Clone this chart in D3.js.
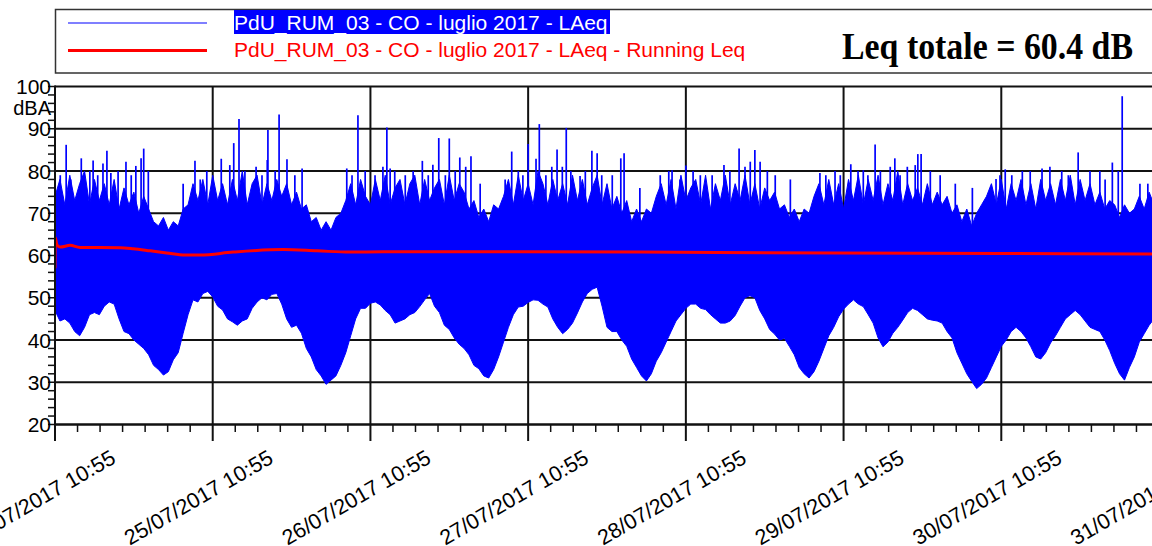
<!DOCTYPE html>
<html>
<head>
<meta charset="utf-8">
<script src="https://cdn.jsdelivr.net/npm/d3@7"></script>
<style>
body { margin: 0; background: #fff; }
svg { display: block; font-family: "Liberation Sans", Arial, sans-serif; }
</style>
</head>
<body>
<div id="workspace"></div>
<script>
// data START

// LAeq envelope, min / max read every 45 min from 24/07/2017 10:55
var startTime = new Date(2017, 6, 24, 10, 55);
var stepHours = 0.75;
var upperLevels = [
  74, 78, 72, 79, 73, 77, 80, 72, 78, 73, 77, 72, 78, 71, 76, 72, 75, 70, 74,
  71, 68, 67, 69, 66, 68, 67, 71,
  72, 77, 73, 78, 72, 79, 73, 77, 72, 78, 73, 80, 72, 77, 79, 72, 77, 73, 78,
  74, 77, 72, 75, 71,
  72, 68, 69, 66, 68, 66, 69, 70,
  73, 77, 72, 78, 74, 72, 78, 73, 79, 72, 76, 78, 72, 77, 79, 72, 78, 73, 76, 78, 72, 79, 73, 77,
  75, 71, 73, 69, 71, 68, 72, 71,
  74, 78, 72, 79, 73, 77, 72, 80, 77, 72, 78, 73, 77, 72, 79, 73, 78, 72, 76, 79, 72, 77, 71,
  74, 70, 73, 68, 71, 68, 71, 70, 74,
  77, 72, 78, 71, 79, 73, 76, 78, 72, 79, 71, 77, 73, 79, 72, 77, 73, 79, 72, 77, 71, 76, 73,
  75, 71, 72, 69, 71, 68, 71, 70, 74,
  77, 72, 78, 72, 77, 71, 78, 73, 79, 72, 78, 73, 79, 72, 77, 73, 80, 72, 77, 73, 76, 72, 77, 72, 75,
  72, 74, 70, 72, 68, 71, 67, 70, 72, 74,
  77, 72, 78, 71, 77, 73, 78, 72, 77, 71, 78, 73, 77, 72, 78, 73, 79, 72, 78, 73, 77, 72,
  75, 71, 73, 72, 69, 72, 70, 71, 74,
  71, 75, 72, 75
];
var lowerLevels = [
  47, 44.5, 45, 44, 42, 41, 43, 46, 46.5, 46, 48, 49, 48.5, 45, 42, 41.5, 40, 39, 38, 36.5,
  34, 33, 31.7, 32.5, 35.3, 37, 41.6, 46, 49.5, 49, 51, 51.5, 50.2, 48, 47.1, 45, 44.3, 43.5, 44.5, 45,
  47.5, 49, 50, 49.5, 50.8, 51, 48.5, 45, 43, 43.5, 41.6, 38, 36, 33, 31.5, 29.5, 30.5, 31.5, 34, 37,
  41, 45, 47.5, 47.5, 48.7, 49, 48.3, 47, 46, 44, 44.5, 45, 46, 46.5, 47.9, 49.5, 51, 48, 46.5, 43.5,
  42.5, 40.5, 39, 38, 36.5, 34, 33.2, 31.5, 31, 33, 36, 39.5, 43, 46, 47.8, 48, 48.9, 49.5, 49.4, 48.5,
  47.8, 45, 43, 41.5, 42.5, 44, 46.4, 49, 51, 52, 52.5, 48, 43, 42, 42, 40, 38.5, 35.5, 33.5, 31.5,
  30.3, 32, 35, 37, 39.5, 42, 44.5, 46, 47.5, 48.5, 48.5, 47.5, 47.2, 46, 45, 44, 44, 44.5, 45.8, 48,
  50, 50.5, 50, 47, 45, 42.5, 41.4, 40, 40.4, 38.5, 36.5, 33.5, 32, 31, 32.5, 35, 38, 41, 43, 45.5,
  47.3, 48.5, 49.5, 48.5, 47.9, 46, 44, 40.5, 38.4, 39.5, 41.6, 43, 44.7, 46.5, 47.5, 47, 46, 45, 44.7, 44.5,
  44, 42, 40.5, 37, 34.5, 32, 30.2, 28.5, 29.5, 31, 33.5, 36, 38.5, 40, 42, 43, 42, 40.5, 38.4, 36,
  35.5, 37, 39.3, 41, 43, 45, 46, 47, 46, 44.5, 43, 42.5, 42, 40, 37.5, 34.5, 32, 30.5, 33.5, 36,
  39.5, 41.5, 43.5, 45, 46
];

// single peaks above the envelope (hours after start, dBA)
var spikeHours = [
  1.7, 4.0, 5.8, 7.3, 7.9, 8.5, 10.8, 12.3, 13.1, 13.5,
  21.3, 25.3, 26.6, 27.2, 28.0, 32.3, 32.4, 34.1, 35.3, 37.6,
  44.4, 46.1, 49.9, 50.5, 51.0, 55.9, 57.5, 58.4, 60.0, 61.6,
  63.3, 69.5, 72.0, 73.2, 73.7, 76.4, 77.8, 79.9, 81.7, 82.5,
  86.1, 86.6, 93.9, 96.0, 101.8, 104.1, 105.8, 106.5, 107.3, 116.4,
  121.1, 123.0, 124.8, 127.8, 130.9, 131.3, 131.8, 143.2, 144.6, 150.2,
  155.7, 159.8, 161.8, 162.4,
  0.8, 2.4, 5.3, 6.5, 9.6, 11.6, 14.2, 19.5, 22.1, 23.1,
  28.9, 30.6, 31.5, 33.5, 36.5, 45.2, 47.2, 48.7, 51.7, 53.3,
  54.5, 56.8, 59.4, 60.9, 62.5, 64.7, 68.5, 70.5, 71.2, 74.7,
  75.6, 77.2, 78.5, 80.7, 83.2, 84.8, 89.0, 92.1, 93.4, 95.1,
  97.1, 98.2, 100.0, 102.7, 105.0, 108.4, 109.6, 111.9, 117.3, 118.7,
  119.5, 122.2, 123.7, 125.6, 127.1, 128.6, 129.7, 133.2, 134.7, 137.0,
  139.6, 143.8, 145.6, 147.2, 148.4, 151.4, 153.2, 154.2, 157.5, 159.0,
  160.9, 165.1, 166.3
];
var spikeLevels = [
  86.2, 83, 82.5, 81.8, 84.8, 79.5, 82.2, 81.2, 83, 85.3,
  82.4, 82.9, 81.4, 86.6, 92.3, 82.6, 89.7, 93.4, 82.8, 80.6,
  80.6, 93.2, 81, 90.3, 80.6, 82.4, 81.5, 87.8, 87.7, 83.2,
  83.5, 84.6, 86.4, 82.9, 91.1, 85.1, 90.2, 78.8, 84.8, 84.2,
  83, 84.2, 80.2, 81.3, 81.4, 85.3, 82.2, 85, 82.2, 79.5,
  81.6, 80.2, 86.3, 83, 81.4, 84, 84, 78.1, 80.4, 80.6,
  84.4, 78, 80, 97.7,
  79, 78, 80, 79, 80, 79, 80, 77, 78, 80,
  80, 81, 79, 80, 79, 79, 80, 79, 80, 79,
  80, 79, 79, 80, 81, 77, 78, 80, 79, 79,
  81, 81, 80, 80, 79, 79, 76, 79, 80, 78,
  80, 79, 79, 80, 81, 80, 79, 78, 79, 80,
  79, 80, 79, 80, 81, 79, 81, 80, 79, 77,
  76, 79, 79, 80, 80, 81, 80, 79, 80, 80,
  82, 77, 77
];

// running Leq
var runHours = [0, 0.05, 0.3, 0.8, 2.3, 3.8, 6.8, 9.9, 11.9, 14.5, 17.0, 19.8, 22.1,
                27.1, 34.7, 39.9, 44.9, 49.9, 60.1, 89.0, 119.5, 143.8, 168];
var runLevels = [57, 64.2, 62.5, 62, 62.4, 61.9, 61.9, 61.85, 61.6, 61.1, 60.6, 60.1, 60.1,
                 60.8, 61.4, 61.1, 60.8, 60.9, 60.9, 60.8, 60.6, 60.5, 60.35];

var dayLabels = ["24/07/2017 10:55", "25/07/2017 10:55", "26/07/2017 10:55", "27/07/2017 10:55",
                 "28/07/2017 10:55", "29/07/2017 10:55", "30/07/2017 10:55", "31/07/2017 10:55"];
var yTicks = [20, 30, 40, 50, 60, 70, 80, 90, 100];
var legendNames = ["PdU_RUM_03 - CO - luglio 2017 - LAeq",
                   "PdU_RUM_03 - CO - luglio 2017 - LAeq - Running Leq"];
var leqTotal = 60.4;

// data END

var W = 1152, H = 546;
var svg = d3.select("#workspace").append("svg")
            .attr("width", W)
            .attr("height", H);

function hoursToDate(h) {
    return new Date(startTime.getTime() + h * 3600 * 1000);
}

var x = d3.scaleTime()
          .domain([startTime, d3.timeDay.offset(startTime, 7)])
          .range([55, 1159]);
var y = d3.scaleLinear().domain([20, 100]).range([424.5, 86.5]);

var gridColor = "#111";

// grid (below data)
var grid = svg.append("g");
yTicks.forEach(function(v) {
    grid.append("line")
        .attr("x1", 55).attr("x2", W)
        .attr("y1", y(v)).attr("y2", y(v))
        .attr("stroke", gridColor)
        .attr("stroke-width", 2);
});
dayLabels.forEach(function(lbl, i) {
    if (i == 0) return;
    var xx = x(d3.timeDay.offset(startTime, i));
    grid.append("line")
        .attr("x1", xx).attr("x2", xx)
        .attr("y1", y(100)).attr("y2", y(20))
        .attr("stroke", gridColor)
        .attr("stroke-width", 2);
});

// clip
svg.append("clipPath").attr("id", "plotclip")
   .append("rect").attr("x", 55).attr("y", 80).attr("width", W - 55).attr("height", 345);

var plot = svg.append("g").attr("clip-path", "url(#plotclip)");

// LAeq envelope
var area = d3.area()
             .x(function(d, i) { return x(hoursToDate(i * stepHours)); })
             .y0(function(d, i) { return y(lowerLevels[i]); })
             .y1(function(d, i) { return y(upperLevels[i]); });
plot.append("path")
    .datum(upperLevels)
    .attr("d", area)
    .attr("fill", "#0000ff")
    .attr("stroke", "#0000ff")
    .attr("stroke-width", 1);

function upperAt(h) {
    var k = h / stepHours;
    var i0 = Math.floor(k), i1 = Math.min(i0 + 1, upperLevels.length - 1);
    var f = k - i0;
    return upperLevels[i0] * (1 - f) + upperLevels[i1] * f;
}

spikeHours.forEach(function(h, i) {
    var xx = x(hoursToDate(h));
    plot.append("line")
        .attr("x1", xx).attr("x2", xx)
        .attr("y1", y(upperAt(h) - 3))
        .attr("y2", y(spikeLevels[i]))
        .attr("stroke", "#0000ff")
        .attr("stroke-width", 1.7);
});

// running Leq
var runLine = d3.line()
                .x(function(d, i) { return x(hoursToDate(runHours[i])); })
                .y(function(d) { return y(d); })
                .curve(d3.curveMonotoneX);
plot.append("path")
    .datum(runLevels)
    .attr("d", runLine)
    .attr("fill", "none")
    .attr("stroke", "#ff0000")
    .attr("stroke-width", 3);

// axes
var axisG = svg.append("g");
axisG.append("line")
     .attr("x1", 55).attr("x2", 55)
     .attr("y1", y(100) - 1).attr("y2", 441)
     .attr("stroke", gridColor).attr("stroke-width", 2);
axisG.append("line")
     .attr("x1", 55).attr("x2", W)
     .attr("y1", y(20)).attr("y2", y(20))
     .attr("stroke", gridColor).attr("stroke-width", 2);

// y ticks every 2 dB
d3.range(20, 101, 2).forEach(function(v) {
    axisG.append("line")
         .attr("x1", 48).attr("x2", 55)
         .attr("y1", y(v)).attr("y2", y(v))
         .attr("stroke", gridColor).attr("stroke-width", 1.5);
});
yTicks.forEach(function(v) {
    axisG.append("text")
         .attr("x", 51)
         .attr("y", y(v))
         .attr("dy", "0.36em")
         .attr("text-anchor", "end")
         .attr("font-size", "21px")
         .attr("fill", "#000")
         .text(v);
});
axisG.append("text")
     .attr("x", 51).attr("y", 115)
     .attr("text-anchor", "end")
     .attr("font-size", "20px")
     .attr("fill", "#000")
     .text("dBA");

// x ticks: major each day, 7 sub-intervals
dayLabels.forEach(function(lbl, i) {
    var t0 = d3.timeDay.offset(startTime, i);
    var xx = x(t0);
    axisG.append("line")
         .attr("x1", xx).attr("x2", xx)
         .attr("y1", y(20)).attr("y2", 441)
         .attr("stroke", gridColor).attr("stroke-width", 2);
    for (var k = 1; k < 7; k++) {
        var xm = x(hoursToDate(i * 24 + k * 24 / 7));
        if (xm > W) continue;
        axisG.append("line")
             .attr("x1", xm).attr("x2", xm)
             .attr("y1", y(20)).attr("y2", 432)
             .attr("stroke", gridColor).attr("stroke-width", 1.5);
    }
    axisG.append("text")
         .attr("transform", "translate(" + (xx + 62) + ",462) rotate(-30)")
         .attr("text-anchor", "end")
         .attr("font-size", "21.5px")
         .attr("fill", "#000")
         .text(lbl);
});

// legend
var leg = svg.append("g");
leg.append("rect")
   .attr("x", 55.5).attr("y", 9.5)
   .attr("width", 1110).attr("height", 63.5)
   .attr("fill", "#fff")
   .attr("stroke", "#333")
   .attr("stroke-width", 1.5);
leg.append("line")
   .attr("x1", 68).attr("x2", 207).attr("y1", 23).attr("y2", 23)
   .attr("stroke", "#0000ff").attr("stroke-width", 1.2);
leg.append("line")
   .attr("x1", 68).attr("x2", 207).attr("y1", 50.5).attr("y2", 50.5)
   .attr("stroke", "#ff0000").attr("stroke-width", 3);
leg.append("rect")
   .attr("x", 234).attr("y", 10)
   .attr("width", 376).attr("height", 24)
   .attr("fill", "#0000ff");
leg.append("text")
   .attr("x", 234).attr("y", 30)
   .attr("font-size", "21px")
   .attr("fill", "#fff")
   .text(legendNames[0]);
leg.append("text")
   .attr("x", 234).attr("y", 57)
   .attr("font-size", "21px")
   .attr("fill", "#ff0000")
   .text(legendNames[1]);
leg.append("text")
   .attr("x", 842).attr("y", 59)
   .attr("font-family", "'Liberation Serif', 'Times New Roman', serif")
   .attr("font-weight", "bold")
   .attr("font-size", "38px")
   .attr("textLength", 291)
   .attr("lengthAdjust", "spacingAndGlyphs")
   .attr("fill", "#000")
   .text("Leq totale = " + leqTotal.toFixed(1) + " dB");
</script>
</body>
</html>
